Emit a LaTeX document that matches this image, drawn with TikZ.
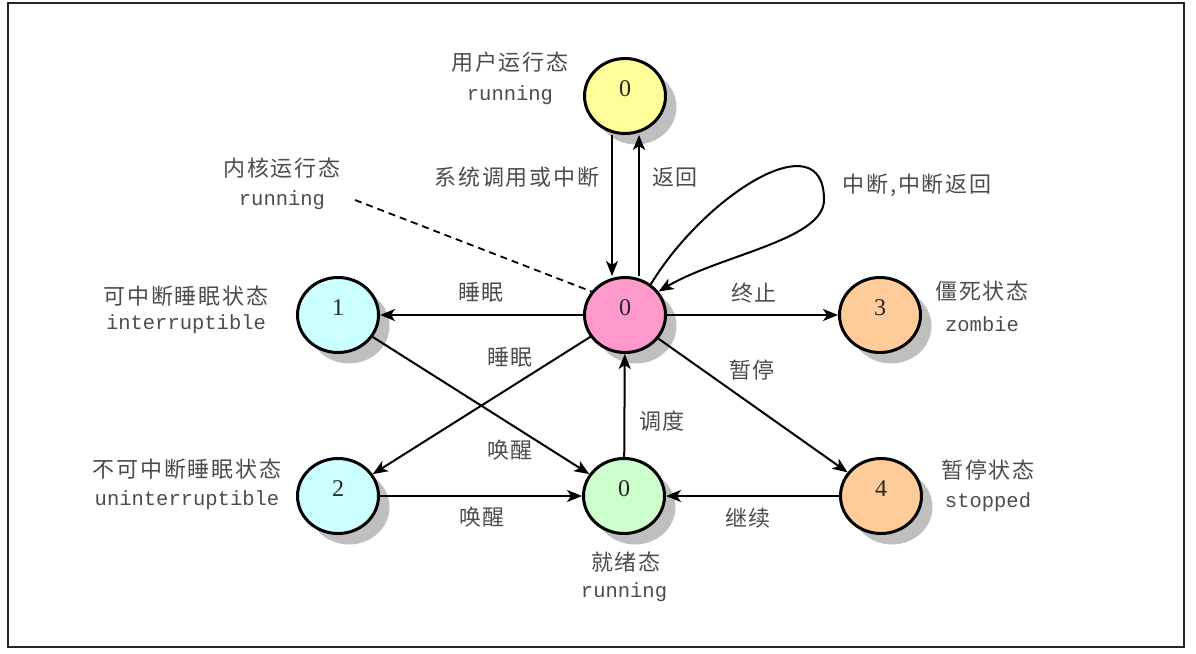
\documentclass[tikz,border=0pt]{standalone}
\usepackage{fontspec}
\newfontfamily\cjk[LetterSpace=8]{Noto Sans CJK SC}
\newfontfamily\monof{Liberation Mono}
\newfontfamily\digf{Liberation Serif}
\usetikzlibrary{shapes.geometric,shadows,arrows.meta}
\definecolor{cY}{HTML}{FFFF99}
\definecolor{cP}{HTML}{FF99CC}
\definecolor{cC}{HTML}{CCFFFF}
\definecolor{cG}{HTML}{CCFFCC}
\definecolor{cO}{HTML}{FFCC99}
\begin{document}
\begin{tikzpicture}[x=1pt,y=-1pt,
  st/.style={ellipse, draw=black, line width=3pt, minimum width=81pt, minimum height=75pt,
    inner sep=0pt, text height=16pt, text depth=16pt,
    font=\digf\fontsize{24pt}{24pt}\selectfont, text=black!85,
    drop shadow={shadow xshift=11pt, shadow yshift=-11pt, fill=black!25, opacity=1}},
  cn/.style={font=\cjk\fontsize{22pt}{24pt}\selectfont, text=black!70, inner sep=0pt},
  en/.style={font=\monof\fontsize{20.5pt}{22pt}\selectfont, text=black!70, inner sep=0pt},
  arr/.style={line width=2pt, -{Stealth[length=15pt,width=12pt,inset=4pt]}},
  ln/.style={line width=1.8pt}]
\useasboundingbox (0,0) rectangle (1196,653);
\draw[line width=2.5pt, black!85] (8,3) rectangle (1184,647);

% states
\node[st, fill=cY] (u)  at (625,96)  {0};
\node[st, fill=cP] (k)  at (625,315) {0};
\node[st, fill=cC] (s1) at (338,315) {1};
\node[st, fill=cC] (s2) at (338,496) {2};
\node[st, fill=cG] (r)  at (624,496) {0};
\node[st, fill=cO] (z)  at (880,315) {3};
\node[st, fill=cO] (t)  at (881,496) {4};

% state names
\node[cn] (un) at (510,62) {用户运行态};
\node[en] (ue) at (510,95) {running};
\node[cn] (kn) at (282,168) {内核运行态};
\node[en] (ke) at (282,200) {running};
\node[cn] (s1n) at (186,296) {可中断睡眠状态};
\node[en] (s1e) at (186,324) {interruptible};
\node[cn] (s2n) at (187,469) {不可中断睡眠状态};
\node[en] (s2e) at (187,500) {uninterruptible};
\node[cn] (zn) at (982,291) {僵死状态};
\node[en] (ze) at (982,324) {zombie};
\node[cn] (tn) at (988,470) {暂停状态};
\node[en] (te) at (988,502) {stopped};
\node[cn] (rn) at (626,562) {就绪态};
\node[en] (re) at (624,592) {running};

% edge labels
\node[cn] (l1) at (517,177) {系统调用或中断};
\node[cn] (l2) at (675,177) {返回};
\node[cn] (l3) at (917,185) {中断,中断返回};
\node[cn] (l4) at (481,292) {睡眠};
\node[cn] (l5) at (510,357) {睡眠};
\node[cn] (l6) at (754,293) {终止};
\node[cn] (l7) at (752,370) {暂停};
\node[cn] (l8) at (662,421) {调度};
\node[cn] (l9) at (510,450) {唤醒};
\node[cn] (l10) at (482,517) {唤醒};
\node[cn] (l11) at (748,518) {继续};

% connectors
\draw[arr] ([xshift=-13pt]u.south) -- ([xshift=-13pt]k.north);
\draw[arr] ([xshift=14pt]k.north) -- ([xshift=14pt]u.south);
\draw[arr] (k.50) .. controls (705,195) and (824,120) .. (824,200)
              .. controls (824,240) and (720,255) .. (k.35);
\draw[arr] (k) -- (s1);
\draw[arr] (k) -- (z);
\draw[arr] (k) -- (s2);
\draw[arr] (s1) -- (r);
\draw[arr] (r) -- (k);
\draw[arr] (s2) -- (r);
\draw[arr] (k) -- (t);
\draw[arr] (t) -- (r);
\coordinate (ds) at (355,200);
\draw[ln, dashed, dash pattern=on 7pt off 5pt] (ds) -- (k.145);
\end{tikzpicture}
\end{document}
